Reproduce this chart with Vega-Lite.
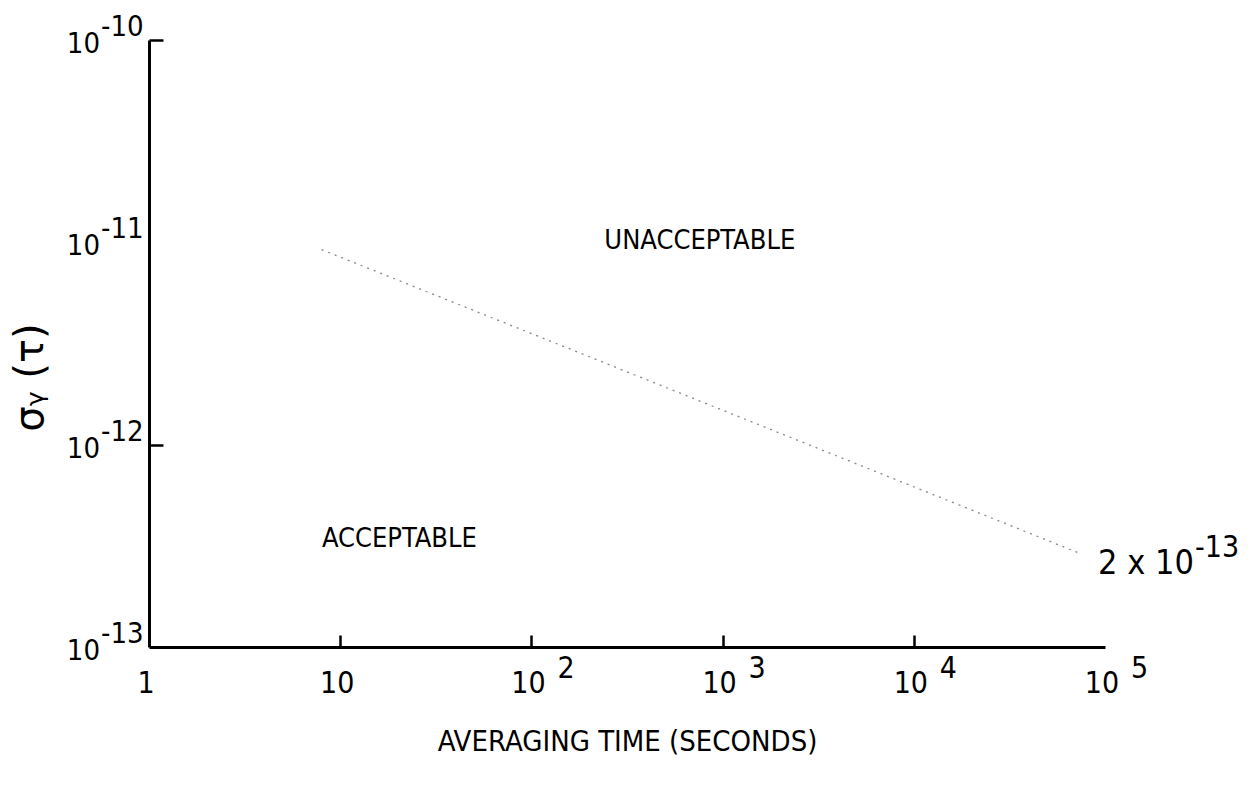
{
  "$schema": "https://vega.github.io/schema/vega-lite/v6.json",
  "width": 956,
  "height": 607,
  "autosize": {"type": "none"},
  "padding": {"left": 149, "top": 40, "right": 150, "bottom": 141},
  "background": "white",
  "config": {"view": {"stroke": null}, "font": "DejaVu Sans Condensed, DejaVu Sans"},
  "datasets": {
    "line": [
      {"tau": 8, "sigma": 9.2e-12},
      {"tau": 176, "sigma": 2.86e-12},
      {"tau": 74000, "sigma": 2.9e-13}
    ],
    "xlabels": [
      {"tau": 1, "base": "1", "exp": ""},
      {"tau": 10, "base": "10", "exp": ""},
      {"tau": 100, "base": "10", "exp": "2"},
      {"tau": 1000, "base": "10", "exp": "3"},
      {"tau": 10000, "base": "10", "exp": "4"},
      {"tau": 100000, "base": "10", "exp": "5"}
    ],
    "ylabels": [
      {"sigma": 1e-13, "base": "10", "exp": "-13"},
      {"sigma": 1e-12, "base": "10", "exp": "-12"},
      {"sigma": 1e-11, "base": "10", "exp": "-11"},
      {"sigma": 1e-10, "base": "10", "exp": "-10"}
    ],
    "notes": [
      {"tau": 760, "sigma": 1.02e-11, "text": "UNACCEPTABLE"},
      {"tau": 20.4, "sigma": 3.43e-13, "text": "ACCEPTABLE"}
    ],
    "endlabel": [
      {"tau": 74000, "sigma": 2.9e-13, "base": "2 x 10", "exp": "-13"}
    ]
  },
  "layer": [
    {
      "data": {"name": "line"},
      "mark": {"type": "line", "color": "#888888", "strokeWidth": 1.3, "strokeDash": [2, 5], "clip": false},
      "encoding": {
        "x": {
          "field": "tau", "type": "quantitative",
          "scale": {"type": "log", "domain": [1, 100000], "nice": false},
          "axis": {
            "values": [10, 100, 1000, 10000],
            "labels": false,
            "tickSize": -12,
            "tickWidth": 2.5,
            "tickColor": "black",
            "domainColor": "black",
            "domainWidth": 3,
            "grid": false,
            "title": "AVERAGING TIME (SECONDS)",
            "titleFont": "DejaVu Sans Condensed, DejaVu Sans",
            "titleFontSize": 29,
            "titleFontWeight": "normal",
            "titleColor": "black",
            "titleY": 94,
            "titleBaseline": "middle"
          }
        },
        "y": {
          "field": "sigma", "type": "quantitative",
          "scale": {"type": "log", "domain": [1e-13, 1e-10], "nice": false},
          "axis": {
            "values": [1e-12, 1e-10],
            "labels": false,
            "tickSize": -14,
            "tickWidth": 2.5,
            "tickColor": "black",
            "domainColor": "black",
            "domainWidth": 3,
            "grid": false,
            "title": "σᵧ (τ)",
            "titleFont": "DejaVu Sans",
            "titleFontSize": 40,
            "titleFontWeight": "normal",
            "titleColor": "black",
            "titleAngle": 270,
            "titleX": -119,
            "titleY": 337,
            "titleAlign": "center",
            "titleBaseline": "middle"
          }
        }
      }
    },
    {
      "data": {"name": "xlabels"},
      "mark": {"type": "text", "fontSize": 30, "align": "center", "baseline": "middle", "dy": 37, "dx": -3, "color": "black"},
      "encoding": {
        "x": {"field": "tau", "type": "quantitative"},
        "y": {"datum": 1e-13, "type": "quantitative"},
        "text": {"field": "base"}
      }
    },
    {
      "data": {"name": "xlabels"},
      "mark": {"type": "text", "fontSize": 30, "align": "left", "baseline": "middle", "dy": 22, "dx": 26, "color": "black"},
      "encoding": {
        "x": {"field": "tau", "type": "quantitative"},
        "y": {"datum": 1e-13, "type": "quantitative"},
        "text": {"field": "exp"}
      }
    },
    {
      "data": {"name": "ylabels"},
      "mark": {"type": "text", "fontSize": 29, "align": "right", "baseline": "middle", "dx": -49, "dy": 4, "color": "black"},
      "encoding": {
        "x": {"datum": 1, "type": "quantitative"},
        "y": {"field": "sigma", "type": "quantitative"},
        "text": {"field": "base"}
      }
    },
    {
      "data": {"name": "ylabels"},
      "mark": {"type": "text", "fontSize": 29, "align": "left", "baseline": "middle", "dx": -48, "dy": -13, "color": "black"},
      "encoding": {
        "x": {"datum": 1, "type": "quantitative"},
        "y": {"field": "sigma", "type": "quantitative"},
        "text": {"field": "exp"}
      }
    },
    {
      "data": {"name": "notes"},
      "mark": {"type": "text", "fontSize": 27, "align": "center", "baseline": "middle", "color": "black"},
      "encoding": {
        "x": {"field": "tau", "type": "quantitative"},
        "y": {"field": "sigma", "type": "quantitative"},
        "text": {"field": "text"}
      }
    },
    {
      "data": {"name": "endlabel"},
      "mark": {"type": "text", "fontSize": 34, "align": "left", "baseline": "middle", "dx": 18, "dy": 11, "color": "black"},
      "encoding": {
        "x": {"field": "tau", "type": "quantitative"},
        "y": {"field": "sigma", "type": "quantitative"},
        "text": {"field": "base"}
      }
    },
    {
      "data": {"name": "endlabel"},
      "mark": {"type": "text", "fontSize": 30, "align": "left", "baseline": "middle", "dx": 115, "dy": -5, "color": "black"},
      "encoding": {
        "x": {"field": "tau", "type": "quantitative"},
        "y": {"field": "sigma", "type": "quantitative"},
        "text": {"field": "exp"}
      }
    }
  ]
}
